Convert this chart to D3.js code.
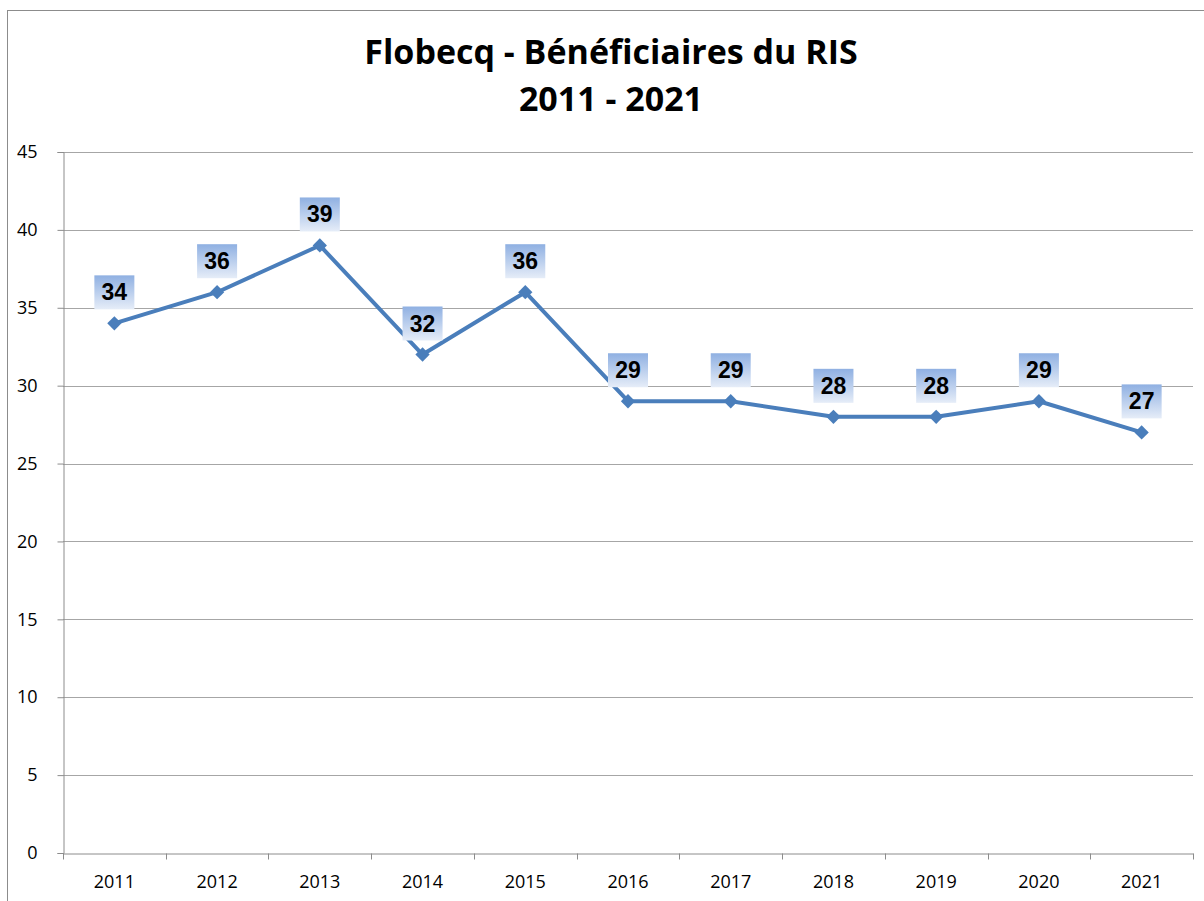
<!DOCTYPE html>
<html>
<head>
<meta charset="utf-8">
<script src="https://cdn.jsdelivr.net/npm/d3@7"></script>
<style>
  body { margin: 0; background: #fff; }
  svg { display: block; font-family: "Open Sans", "DejaVu Sans", sans-serif; }
</style>
</head>
<body>
<div id="app"></div>
<script>
const years = ["2011", "2012", "2013", "2014", "2015", "2016", "2017", "2018", "2019", "2020", "2021"];
const beneficiaires = [34, 36, 39, 32, 36, 29, 29, 28, 28, 29, 27];
const yTicks = [0, 5, 10, 15, 20, 25, 30, 35, 40, 45];
const titleLines = ["Flobecq - Bénéficiaires du RIS", "2011 - 2021"];

const width = 1204, height = 901;
const margin = { top: 152, right: 11, bottom: 48, left: 63 };
const font = "'Open Sans', 'DejaVu Sans', sans-serif";

const svg = d3.select("#app")
  .append("svg")
  .attr("width", width)
  .attr("height", height);

// label gradient
const grad = svg.append("defs")
  .append("linearGradient")
  .attr("id", "lblGrad")
  .attr("x1", 0).attr("y1", 0).attr("x2", 0).attr("y2", 1);
grad.append("stop").attr("offset", "0%").attr("stop-color", "#8fb0e2");
grad.append("stop").attr("offset", "100%").attr("stop-color", "#e6edf8");

// outer chart border
svg.append("rect")
  .attr("x", 7.5).attr("y", 10.5)
  .attr("width", width + 20).attr("height", height + 20)
  .attr("fill", "none")
  .attr("stroke", "#8c8c8c");

const x = d3.scaleBand()
  .domain(years)
  .range([margin.left, width - margin.right]);

const y = d3.scaleLinear()
  .domain([0, 45])
  .range([height - margin.bottom, margin.top]);

// title
svg.append("g")
  .selectAll("text")
  .data(titleLines)
  .join("text")
  .attr("x", 611)
  .attr("y", (d, i) => 64 + i * 47)
  .attr("text-anchor", "middle")
  .style("font-family", font)
  .style("font-weight", "bold")
  .style("font-size", "34px")
  .attr("fill", "#000")
  .text(d => d);

// gridlines
svg.append("g")
  .selectAll("line")
  .data(yTicks.slice(1))
  .join("line")
  .attr("x1", margin.left)
  .attr("x2", width - margin.right)
  .attr("y1", d => Math.round(y(d)) + 0.5)
  .attr("y2", d => Math.round(y(d)) + 0.5)
  .attr("stroke", "#a6a6a6")
  .attr("stroke-width", 1);

// y axis
const yAxis = svg.append("g")
  .attr("transform", `translate(${margin.left + 0.5},0)`)
  .call(d3.axisLeft(y).tickValues(yTicks).tickSize(6).tickPadding(20));
yAxis.selectAll("text")
  .style("font-family", font)
  .style("font-size", "18px")
  .attr("fill", "#000");

// x axis
const xAxis = svg.append("g")
  .attr("transform", `translate(0,${Math.round(y(0)) + 0.5})`)
  .call(d3.axisBottom(x).tickSize(0).tickPadding(22));
xAxis.selectAll("text")
  .style("font-family", font)
  .style("font-size", "18px")
  .attr("fill", "#000");

// x tick marks at band boundaries
xAxis.selectAll(".bound")
  .data(years.map(d => x(d)).concat([x.range()[1]]))
  .join("line")
  .attr("class", "bound")
  .attr("x1", d => Math.round(d) + 0.5)
  .attr("x2", d => Math.round(d) + 0.5)
  .attr("y1", 0)
  .attr("y2", 6);

svg.selectAll(".domain, .tick line, .bound")
  .attr("stroke", "#8c8c8c");

const cx = d => x(d) + x.bandwidth() / 2;
const pts = years.map((d, i) => ({ year: d, value: beneficiaires[i] }));

// line
svg.append("path")
  .datum(pts)
  .attr("fill", "none")
  .attr("stroke", "#4a7ebb")
  .attr("stroke-width", 4)
  .attr("stroke-linejoin", "round")
  .attr("d", d3.line().x(d => cx(d.year)).y(d => y(d.value)));

// markers
svg.append("g")
  .selectAll("path")
  .data(pts)
  .join("path")
  .attr("transform", d => `translate(${cx(d.year)},${y(d.value)})`)
  .attr("d", d3.symbol(d3.symbolDiamond2, 130))
  .attr("fill", "#4a7ebb");

// data labels
const lbl = svg.append("g")
  .selectAll("g")
  .data(pts)
  .join("g")
  .attr("transform", d => `translate(${cx(d.year)},${y(d.value) - 14})`);

lbl.append("rect")
  .attr("x", -20).attr("y", -34)
  .attr("width", 40).attr("height", 34)
  .attr("fill", "url(#lblGrad)");

lbl.append("text")
  .attr("y", -9)
  .attr("text-anchor", "middle")
  .style("font-family", "'Liberation Sans', Arial, sans-serif")
  .style("font-weight", "bold")
  .style("font-size", "23px")
  .attr("fill", "#000")
  .text(d => d.value);
</script>
</body>
</html>
